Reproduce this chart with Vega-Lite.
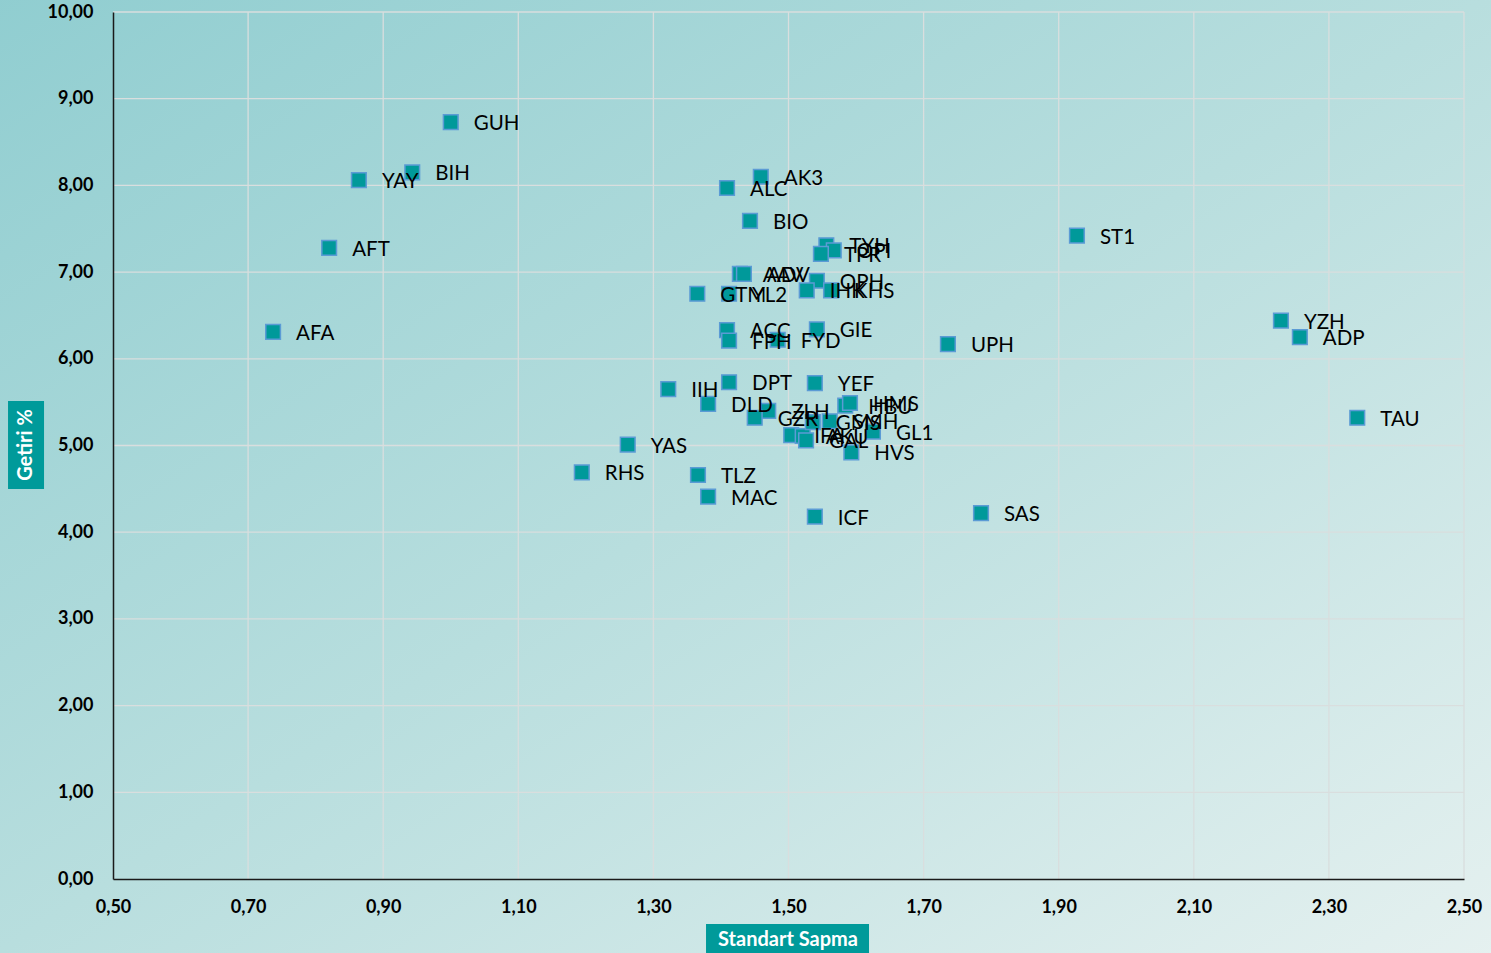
{
  "$schema": "https://vega.github.io/schema/vega-lite/v6.json",
  "autosize": "none",
  "width": 1351,
  "height": 867,
  "padding": {"left": 113, "top": 12, "right": 27, "bottom": 74},
  "background": "#B5DCDC",
  "config": {
    "view": {"stroke": null},
    "font": "Lato",
    "locale": {"number": {"decimal": ",", "thousands": ".", "grouping": [3], "currency": ["", " TL"]}}
  },
  "data": {"values": [
    {"code": "GUH", "sd": 1.000, "ret": 8.73},
    {"code": "BIH", "sd": 0.943, "ret": 8.15},
    {"code": "YAY", "sd": 0.864, "ret": 8.06},
    {"code": "AFT", "sd": 0.820, "ret": 7.28},
    {"code": "AFA", "sd": 0.737, "ret": 6.31},
    {"code": "AK3", "sd": 1.459, "ret": 8.10},
    {"code": "ALC", "sd": 1.409, "ret": 7.97},
    {"code": "BIO", "sd": 1.443, "ret": 7.59},
    {"code": "TYH", "sd": 1.556, "ret": 7.31},
    {"code": "OPI", "sd": 1.567, "ret": 7.25},
    {"code": "TPR", "sd": 1.548, "ret": 7.21},
    {"code": "AAV", "sd": 1.428, "ret": 6.98},
    {"code": "ADV", "sd": 1.434, "ret": 6.98},
    {"code": "GTM", "sd": 1.365, "ret": 6.75},
    {"code": "YL2", "sd": 1.412, "ret": 6.75},
    {"code": "OPH", "sd": 1.542, "ret": 6.90},
    {"code": "IHK", "sd": 1.527, "ret": 6.79},
    {"code": "KHS", "sd": 1.563, "ret": 6.79},
    {"code": "ACC", "sd": 1.409, "ret": 6.33},
    {"code": "FPH", "sd": 1.412, "ret": 6.21},
    {"code": "FYD", "sd": 1.484, "ret": 6.22},
    {"code": "GIE", "sd": 1.542, "ret": 6.34},
    {"code": "UPH", "sd": 1.736, "ret": 6.17},
    {"code": "ST1", "sd": 1.927, "ret": 7.42},
    {"code": "YZH", "sd": 2.229, "ret": 6.44},
    {"code": "ADP", "sd": 2.257, "ret": 6.25},
    {"code": "TAU", "sd": 2.342, "ret": 5.32},
    {"code": "IIH", "sd": 1.322, "ret": 5.65},
    {"code": "DPT", "sd": 1.412, "ret": 5.73},
    {"code": "YEF", "sd": 1.539, "ret": 5.72},
    {"code": "DLD", "sd": 1.381, "ret": 5.48},
    {"code": "ZLH", "sd": 1.470, "ret": 5.40},
    {"code": "GZR", "sd": 1.450, "ret": 5.32},
    {"code": "YAS", "sd": 1.262, "ret": 5.01},
    {"code": "RHS", "sd": 1.194, "ret": 4.69},
    {"code": "TLZ", "sd": 1.366, "ret": 4.66},
    {"code": "MAC", "sd": 1.381, "ret": 4.41},
    {"code": "ICF", "sd": 1.539, "ret": 4.18},
    {"code": "SAS", "sd": 1.785, "ret": 4.22},
    {"code": "HVS", "sd": 1.593, "ret": 4.92},
    {"code": "GL1", "sd": 1.625, "ret": 5.16},
    {"code": "IFA", "sd": 1.504, "ret": 5.12},
    {"code": "AKU", "sd": 1.521, "ret": 5.11},
    {"code": "GAL", "sd": 1.526, "ret": 5.06},
    {"code": "GMS", "sd": 1.536, "ret": 5.27},
    {"code": "SMH", "sd": 1.561, "ret": 5.28},
    {"code": "HBU", "sd": 1.584, "ret": 5.46},
    {"code": "HMS", "sd": 1.591, "ret": 5.49}
  ]},
  "layer": [
    {
      "data": {"values": [{}]},
      "mark": {"type": "rect", "clip": false, "color": {"gradient": "linear", "x1": 0, "y1": 0, "x2": 1, "y2": 1, "stops": [{"offset": 0, "color": "#8FCDD0"}, {"offset": 0.5, "color": "#B8DEDE"}, {"offset": 1, "color": "#E6F1F0"}]}},
      "encoding": {
        "x": {"datum": 0.30, "type": "quantitative", "scale": {"domain": [0.5, 2.5], "nice": false, "zero": false}},
        "x2": {"datum": 2.56},
        "y": {"datum": -1.0, "type": "quantitative", "scale": {"domain": [0, 10], "nice": false}},
        "y2": {"datum": 10.3}
      }
    },
    {
      "data": {"values": [{"g": 0.7}, {"g": 0.9}, {"g": 1.1}, {"g": 1.3}, {"g": 1.5}, {"g": 1.7}, {"g": 1.9}, {"g": 2.1}, {"g": 2.3}, {"g": 2.5}]},
      "mark": {"type": "rule", "color": "#D9DEDE", "strokeWidth": 1.3},
      "encoding": {
        "x": {"field": "g", "type": "quantitative"}
      }
    },
    {
      "data": {"values": [{"g": 1}, {"g": 2}, {"g": 3}, {"g": 4}, {"g": 5}, {"g": 6}, {"g": 7}, {"g": 8}, {"g": 9}, {"g": 10}]},
      "mark": {"type": "rule", "color": "#D9DEDE", "strokeWidth": 1.3},
      "encoding": {
        "y": {"field": "g", "type": "quantitative"}
      }
    },
    {
      "mark": {"type": "point", "shape": "square", "size": 215, "filled": true, "fill": "#00999A", "stroke": "#5B9BD5", "strokeWidth": 1.5, "opacity": 1},
      "encoding": {
        "x": {"field": "sd", "type": "quantitative", "scale": {"domain": [0.5, 2.5], "nice": false, "zero": false},
          "axis": {"title": null, "values": [0.5, 0.7, 0.9, 1.1, 1.3, 1.5, 1.7, 1.9, 2.1, 2.3, 2.5], "format": ".2f", "zindex": 1,
            "grid": false,
            "domainColor": "#1A1A1A", "domainWidth": 1.5, "ticks": false,
            "labelFont": "Lato", "labelFontSize": 18, "labelFontWeight": "bold", "labelColor": "#000000", "labelPadding": 19, "labelFlush": false}},
        "y": {"field": "ret", "type": "quantitative", "scale": {"domain": [0, 10], "nice": false},
          "axis": {"title": null, "values": [0, 1, 2, 3, 4, 5, 6, 7, 8, 9, 10], "format": ".2f", "zindex": 1,
            "grid": false,
            "domainColor": "#1A1A1A", "domainWidth": 1.5, "ticks": false,
            "labelFont": "Lato", "labelFontSize": 18, "labelFontWeight": "bold", "labelColor": "#000000", "labelPadding": 20}}
      }
    },
    {
      "mark": {"type": "text", "align": "left", "baseline": "middle", "dx": 23, "dy": 2, "fontSize": 20.5, "font": "Lato", "color": "#000000"},
      "encoding": {
        "x": {"field": "sd", "type": "quantitative"},
        "y": {"field": "ret", "type": "quantitative"},
        "text": {"field": "code"}
      }
    },
    {
      "data": {"values": [{}]},
      "mark": {"type": "rect", "clip": false, "color": "#009A9A"},
      "encoding": {
        "x": {"datum": 0.3446, "type": "quantitative"},
        "x2": {"datum": 0.3979},
        "y": {"datum": 5.513, "type": "quantitative"},
        "y2": {"datum": 4.498}
      }
    },
    {
      "data": {"values": [{}]},
      "mark": {"type": "rect", "clip": false, "color": "#009A9A"},
      "encoding": {
        "x": {"datum": 1.3779, "type": "quantitative"},
        "x2": {"datum": 1.6192},
        "y": {"datum": -0.519, "type": "quantitative"},
        "y2": {"datum": -0.9}
      }
    },
    {
      "data": {"values": [{"t": "Getiri %"}]},
      "mark": {"type": "text", "clip": false, "angle": 270, "align": "center", "baseline": "middle", "fontSize": 20, "fontWeight": "bold", "font": "Lato", "color": "#FFFFFF"},
      "encoding": {
        "x": {"datum": 0.3712, "type": "quantitative"},
        "y": {"datum": 5.006, "type": "quantitative"},
        "text": {"field": "t"}
      }
    },
    {
      "data": {"values": [{"t": "Standart Sapma"}]},
      "mark": {"type": "text", "clip": false, "align": "center", "baseline": "middle", "fontSize": 20, "fontWeight": "bold", "font": "Lato", "color": "#FFFFFF"},
      "encoding": {
        "x": {"datum": 1.4993, "type": "quantitative"},
        "y": {"datum": -0.704, "type": "quantitative"},
        "text": {"field": "t"}
      }
    }
  ]
}
